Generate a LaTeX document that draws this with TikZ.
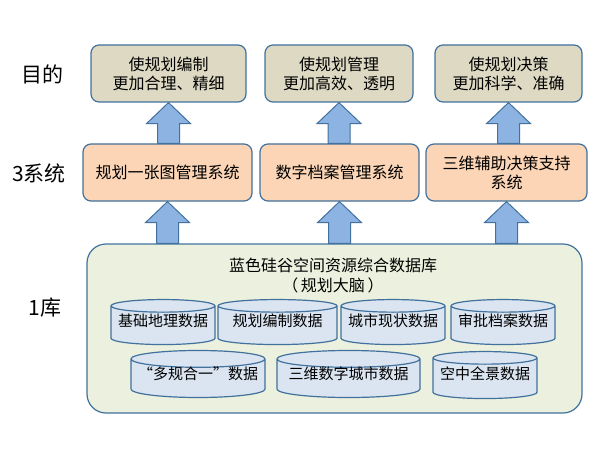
\documentclass[tikz,border=0pt]{standalone}
\usepackage{fontspec}
\setmainfont{Noto Sans CJK SC}
\usetikzlibrary{calc,shapes.geometric}
\definecolor{edgeblue}{HTML}{41719C}
\definecolor{arrowblue}{HTML}{8DB3E2}
\definecolor{aimfill}{HTML}{DDD9C3}
\definecolor{sysfill}{HTML}{FBD5B5}
\definecolor{libfill}{HTML}{EBF1DE}
\definecolor{dbfill}{HTML}{DBE5F1}
\tikzset{
  aimbox/.style={draw=edgeblue,line width=1.2pt,fill=aimfill,rounded corners=8pt,
    minimum height=57pt,align=center,font=\fontsize{16}{19}\selectfont},
  sysbox/.style={aimbox,fill=sysfill},
  libbox/.style={draw=edgeblue,line width=1.2pt,fill=libfill,rounded corners=19pt},
  dbcyl/.style={cylinder,shape border rotate=90,aspect=0.14,draw=edgeblue,line width=1.2pt,
    fill=dbfill,inner sep=0pt,text height=8pt,text depth=6pt,font=\fontsize{15}{18}\selectfont},
  level/.style={font=\fontsize{21}{24}\selectfont},
  liftarrow/.style={draw=edgeblue,line width=1pt,fill=arrowblue,line join=miter},
}
% block arrow from the lower node #1 up to the upper node #2
\newcommand\liftarrow[2]{%
  \path[liftarrow] let \p1=(#1.north), \p2=(#2.south) in
    (\x2-11pt,\y1) -- (\x2-11pt,\y2-21pt) -- (\x2-22pt,\y2-21pt) -- (\x2,\y2)
    -- (\x2+22pt,\y2-21pt) -- (\x2+11pt,\y2-21pt) -- (\x2+11pt,\y1) -- cycle;}
\begin{document}
\begin{tikzpicture}[x=1pt,y=-1pt]
\useasboundingbox (0,0) rectangle (599,449);
% levels
\node[level] (lvaim) at (42,74) {目的};
\node[level] (lvsys) at (39,173) {3系统};
\node[level] (lvlib) at (45,308) {1库};
% aims
\node[aimbox,minimum width=155pt] (aim1) at (168.5,73.5) {使规划编制\\更加合理、精细};
\node[aimbox,minimum width=148pt] (aim2) at (339,73.5) {使规划管理\\更加高效、透明};
\node[aimbox,minimum width=147pt] (aim3) at (508.5,73.5) {使规划决策\\更加科学、准确};
% systems
\node[sysbox,minimum width=169pt] (sys1) at (167.5,172.5) {规划一张图管理系统};
\node[sysbox,minimum width=159pt] (sys2) at (339.5,172.5) {数字档案管理系统};
\node[sysbox,minimum width=161pt] (sys3) at (506.5,172.5) {三维辅助决策支持\\系统};
% library
\node[libbox,minimum width=495pt,minimum height=169pt] (lib) at (334.5,328.5) {};
\node[align=center,font=\fontsize{16}{20}\selectfont] (libname) at (333,275)
  {蓝色硅谷空间资源综合数据库\\（\,规划大脑\,）};
\node[dbcyl,minimum width=104pt,minimum height=45pt] (db1) at (163,325.5) {基础地理数据};
\node[dbcyl,minimum width=119pt,minimum height=45pt] (db2) at (277.5,325.5) {规划编制数据};
\node[dbcyl,minimum width=104pt,minimum height=45pt] (db3) at (393,325.5) {城市现状数据};
\node[dbcyl,minimum width=104pt,minimum height=45pt] (db4) at (503,325.5) {审批档案数据};
\node[dbcyl,minimum width=134pt,minimum height=47pt] (db5) at (198,378.5) {“多规合一”数据};
\node[dbcyl,minimum width=143pt,minimum height=47pt] (db6) at (348.5,378.5) {三维数字城市数据};
\node[dbcyl,minimum width=104pt,minimum height=47pt] (db7) at (485,378.5) {空中全景数据};
% arrows
\liftarrow{sys1}{aim1}
\liftarrow{sys2}{aim2}
\liftarrow{sys3}{aim3}
\liftarrow{lib}{sys1}
\liftarrow{lib}{sys2}
\liftarrow{lib}{sys3}
\end{tikzpicture}
\end{document}
